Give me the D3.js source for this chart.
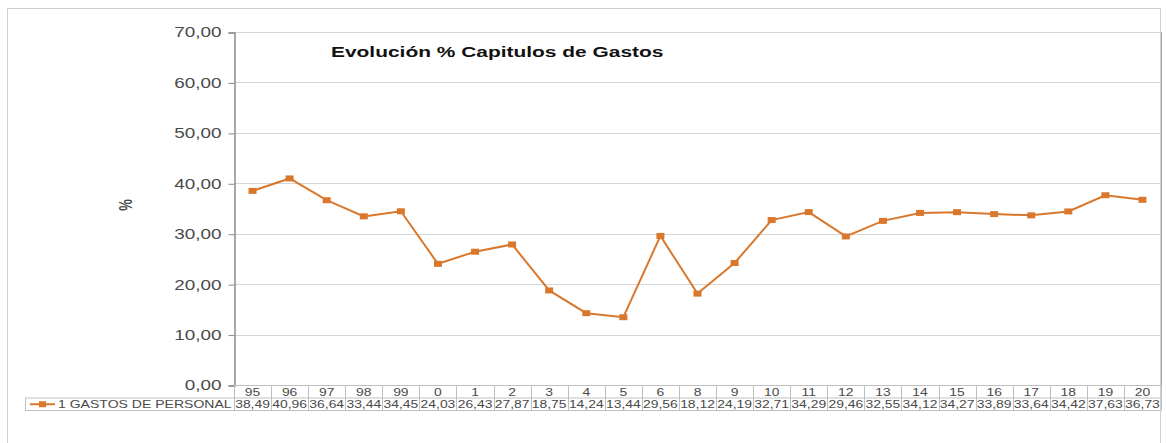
<!DOCTYPE html>
<html><head><meta charset="utf-8">
<script src="https://cdn.jsdelivr.net/npm/d3@7"></script>
<style>body{margin:0;background:#fff}svg{display:block}text{font-family:"Liberation Sans",Arial,sans-serif}</style>
</head><body>
<svg id="c" width="1166" height="443"></svg>
<script>
const categories = ["95","96","97","98","99","0","1","2","3","4","5","6","8","9","10","11","12","13","14","15","16","17","18","19","20"];
const values = [38.49,40.96,36.64,33.44,34.45,24.03,26.43,27.87,18.75,14.24,13.44,29.56,18.12,24.19,32.71,34.29,29.46,32.55,34.12,34.27,33.89,33.64,34.42,37.63,36.73];
const yTicks = [0,10,20,30,40,50,60,70];
const seriesName = "1 GASTOS DE PERSONAL";
const title = "Evolución % Capitulos de Gastos";
const yTitle = "%";

const SX = 1.35; // horizontal stretch of the original picture
const fmt = v => v.toFixed(2).replace(".", ",");
const svg = d3.select("#c");
const L = 234, R = 1161, T = 32, B = 385;
const rowH = 12.5;
const legendL = 25;
const lineColor = "#D9782D";
const textColor = "#4A4A4A";

// outer frame
svg.append("rect").attr("x",7.5).attr("y",8.5).attr("width",1153).attr("height",445)
  .attr("fill","none").attr("stroke","#D0D0D0");

const x = d3.scaleBand().domain(categories).range([L, R]);
const y = d3.scaleLinear().domain([0,70]).range([B, T]);

// gridlines
svg.append("g").selectAll("line").data(yTicks).join("line")
  .attr("x1",L).attr("x2",R).attr("y1",d=>Math.round(y(d))+0.5).attr("y2",d=>Math.round(y(d))+0.5)
  .attr("stroke","#D6D6D6");

// plot right border
svg.append("line").attr("x1",R+0.5).attr("x2",R+0.5).attr("y1",T).attr("y2",B)
  .attr("stroke","#A6A6A6");

// y axis
const ax = svg.append("g").attr("transform",`translate(${L+0.5},0.5)`)
  .call(d3.axisLeft(y).tickValues(yTicks).tickFormat(fmt).tickSize(6).tickPadding(0));
ax.select(".domain").attr("stroke","#8C8C8C").attr("stroke-width",1.5);
ax.selectAll(".tick line").attr("stroke","#8C8C8C");
ax.selectAll(".tick text").attr("x",null).attr("transform",`translate(-13,0) scale(${SX},1)`)
  .attr("font-size",14).attr("fill",textColor).attr("font-family","Liberation Sans, Arial, sans-serif");

// title
svg.append("text").attr("transform",`translate(331,57) scale(${SX},1)`)
  .attr("font-size",15.5).attr("font-weight","bold").attr("fill","#111").text(title);

// y title
svg.append("text").attr("transform",`translate(132,205) rotate(-90) scale(1,${SX})`)
  .attr("text-anchor","middle").attr("font-size",13).attr("font-weight","bold").attr("fill",textColor).text(yTitle);

// data table
const tbl = svg.append("g");
const gridC = "#BFBFBF";
const r1 = B, r2 = B + rowH + 0.5, r3 = B + 2*rowH + 0.5;
tbl.append("line").attr("x1",L).attr("x2",R).attr("y1",r1+0.5).attr("y2",r1+0.5).attr("stroke",gridC);
tbl.append("line").attr("x1",legendL).attr("x2",R).attr("y1",r2).attr("y2",r2).attr("stroke",gridC);
tbl.append("line").attr("x1",legendL).attr("x2",R).attr("y1",r3).attr("y2",r3).attr("stroke",gridC);
tbl.append("line").attr("x1",legendL+0.5).attr("x2",legendL+0.5).attr("y1",r2).attr("y2",r3).attr("stroke",gridC);
const edges = categories.map(c => x(c)).concat([R]);
tbl.selectAll("line.v").data(edges).join("line").attr("class","v")
  .attr("x1",d=>Math.round(d)+0.5).attr("x2",d=>Math.round(d)+0.5).attr("y1",r1).attr("y2",r3).attr("stroke",gridC);
tbl.selectAll("text.cat").data(categories).join("text").attr("class","cat")
  .attr("transform",d=>`translate(${x(d)+x.bandwidth()/2},${r1+10.5}) scale(${SX},1)`)
  .attr("text-anchor","middle").attr("font-size",10.3).attr("fill",textColor).text(d=>d);
tbl.selectAll("text.val").data(values).join("text").attr("class","val")
  .attr("transform",(d,i)=>`translate(${x(categories[i])+x.bandwidth()/2},${r2+10}) scale(${SX},1)`)
  .attr("text-anchor","middle").attr("font-size",10.3).attr("fill",textColor).text(fmt);
// legend key
const ly = (r2 + r3)/2;
tbl.append("line").attr("x1",30).attr("x2",55).attr("y1",ly).attr("y2",ly).attr("stroke",lineColor).attr("stroke-width",2);
tbl.append("rect").attr("x",39).attr("y",ly-3).attr("width",7).attr("height",6).attr("fill",lineColor);
tbl.append("text").attr("transform",`translate(58,${r2+10}) scale(${SX},1)`)
  .attr("font-size",10.4).attr("fill",textColor).text(seriesName);

// series line
const cx = (d,i) => x(categories[i]) + x.bandwidth()/2;
svg.append("path").datum(values)
  .attr("d", d3.line().x(cx).y(d=>y(d)))
  .attr("fill","none").attr("stroke",lineColor).attr("stroke-width",2);
svg.append("g").selectAll("rect").data(values).join("rect")
  .attr("x",(d,i)=>cx(d,i)-4).attr("y",d=>y(d)-3).attr("width",8).attr("height",6)
  .attr("fill",lineColor);
</script>
</body></html>
